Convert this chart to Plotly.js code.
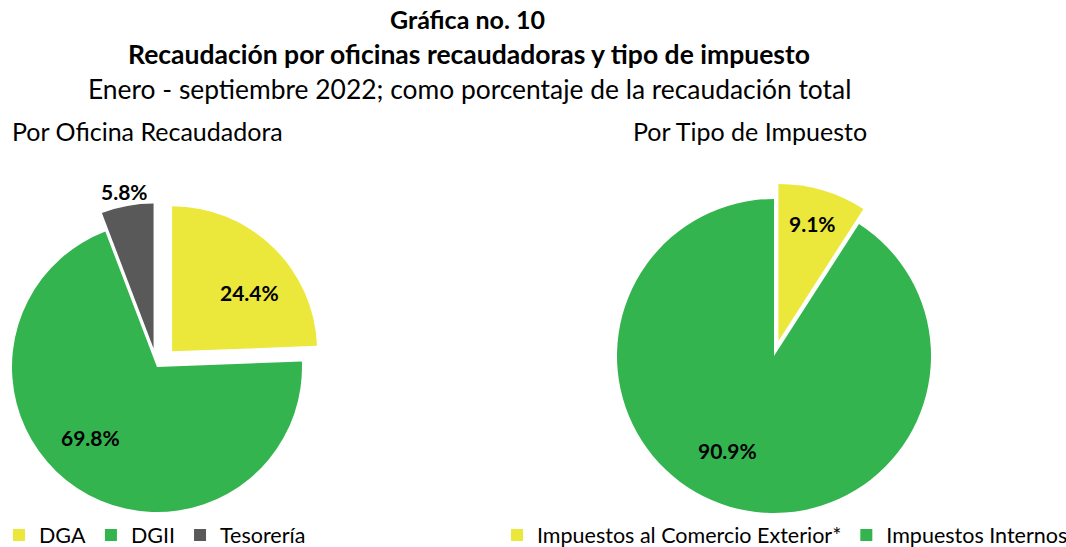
<!DOCTYPE html>
<html><head><meta charset="utf-8">
<script src="https://cdn.plot.ly/plotly-3.0.1.min.js"></script>
<style>
html,body{margin:0;padding:0;overflow:hidden;background:#fff;width:1066px;height:547px}
#chart{position:absolute;left:-30px;top:0;width:1096px;height:547px}
</style>
</head><body><div id="chart"></div>
<script>
// ---- data ----
const officeLabels = ['DGA', 'DGII', 'Tesorería'];
const officeValues = [24.4, 69.8, 5.8];
const taxLabels = ['Impuestos al Comercio Exterior*', 'Impuestos Internos'];
const taxValues = [9.1, 90.9];
const titleLine1 = 'Gráfica no. 10';
const titleLine2 = 'Recaudación por oficinas recaudadoras y tipo de impuesto';
const titleLine3 = 'Enero - septiembre 2022; como porcentaje de la recaudación total';
const subtitleLeft = 'Por Oficina Recaudadora';
const subtitleRight = 'Por Tipo de Impuesto';

// ---- styling / layout helpers ----
const W = 1096, H = 547, OFF = 30;
const fx = x => (x + OFF) / W;
const fy = y => 1 - y / H;
const FONT = 'Lato, "Open Sans", sans-serif';
const YELLOW = '#EBE83B', GREEN = '#33B44F', GRAY = '#595959';
const LABEL_SIZE = 21;

function domainFor(g) {
  const half = g.r * (1 + Math.max(...g.pull));
  return { x: [fx(g.cx - half), fx(g.cx + half)], y: [fy(g.cy + half), fy(g.cy - half)] };
}

// pie geometry (pixel centre / radius) and slice explosion
const leftGeom = { cx: 157, cy: 367, r: 145, pull: [0.15, 0, 0.13], pos: ['in', 'in', 'out'] };
const rightGeom = { cx: 774, cy: 356, r: 157, pull: [0.1, 0], pos: ['in', 'in'] };

// percentage labels positioned from the slice angles (clockwise from 12 o'clock)
function labelAnnotations(values, g) {
  const total = values.reduce((a, b) => a + b, 0);
  let start = 0;
  const out = [];
  values.forEach((v, i) => {
    const span = v / total * 360;
    const mid = start + span / 2;
    const p = g.pull[i] * g.r;
    const vx = g.cx + p * Math.sin(mid * Math.PI / 180);
    const vy = g.cy - p * Math.cos(mid * Math.PI / 180);
    let ang, k;
    if (g.pos[i] === 'out') { ang = mid; k = 1.1; }
    else if (span < 45) { ang = mid; k = 0.78; }
    else { ang = mid + Math.min(10, span * 0.1); k = 0.67; }
    const lx = vx + k * g.r * Math.sin(ang * Math.PI / 180);
    const ly = vy - k * g.r * Math.cos(ang * Math.PI / 180);
    out.push({
      text: (v / total * 100).toFixed(1) + '%', xref: 'paper', yref: 'paper',
      x: fx(lx), y: fy(ly), xanchor: 'center', yanchor: 'middle', showarrow: false,
      font: { family: FONT, size: LABEL_SIZE, color: '#000', weight: 'bold' }
    });
    start += span;
  });
  return out;
}

const traces = [
  {
    type: 'pie', labels: officeLabels, values: officeValues,
    sort: false, direction: 'clockwise', rotation: 0,
    pull: leftGeom.pull, domain: domainFor(leftGeom),
    marker: { colors: [YELLOW, GREEN, GRAY], line: { color: '#ffffff', width: 0 } },
    textinfo: 'none', hoverinfo: 'label+percent',
    legend: 'legend'
  },
  {
    type: 'pie', labels: taxLabels, values: taxValues,
    sort: false, direction: 'clockwise', rotation: 0,
    pull: rightGeom.pull, domain: domainFor(rightGeom),
    marker: { colors: [YELLOW, GREEN], line: { color: '#ffffff', width: 0 } },
    textinfo: 'none', hoverinfo: 'label+percent',
    legend: 'legend2'
  }
];

function ann(text, x, y, size, bold, xanchor) {
  return {
    text: text, xref: 'paper', yref: 'paper', x: fx(x), y: fy(y),
    xanchor: xanchor || 'center', yanchor: 'middle', showarrow: false,
    font: { family: FONT, size: size, color: '#000', weight: bold ? 'bold' : 'normal' }
  };
}

const legendFont = { family: FONT, size: 21.5, color: '#000' };

const layout = {
  width: W, height: H,
  margin: { l: 0, r: 0, t: 0, b: 0, autoexpand: false },
  paper_bgcolor: '#fff', plot_bgcolor: '#fff',
  font: { family: FONT, color: '#000' },
  showlegend: true,
  legend: {
    orientation: 'h', x: fx(-1), xanchor: 'left', y: fy(535), yanchor: 'middle',
    font: legendFont, bgcolor: 'rgba(0,0,0,0)', traceorder: 'normal'
  },
  legend2: {
    orientation: 'h', x: fx(497), xanchor: 'left', y: fy(535), yanchor: 'middle',
    font: legendFont, bgcolor: 'rgba(0,0,0,0)', traceorder: 'normal'
  },
  annotations: [
    ann(titleLine1, 468, 19, 25, true),
    ann(titleLine2, 469, 54, 26.5, true),
    ann(titleLine3, 469, 89, 26.4, false),
    ann(subtitleLeft, 10, 131, 25, false, 'left'),
    ann(subtitleRight, 750, 131, 25, false)
  ].concat(labelAnnotations(officeValues, leftGeom), labelAnnotations(taxValues, rightGeom))
};

Plotly.newPlot('chart', traces, layout, { displayModeBar: false, staticPlot: true });
</script>
</body></html>
